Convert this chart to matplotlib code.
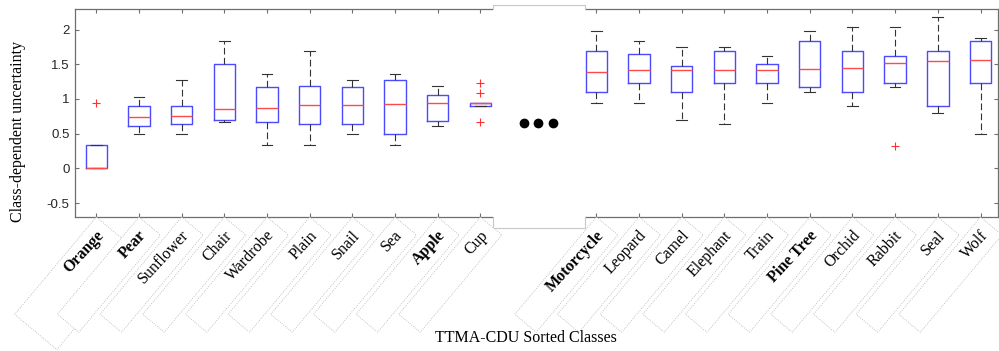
import numpy as np
import matplotlib.pyplot as plt
from matplotlib.patches import Polygon, Rectangle
from matplotlib.transforms import IdentityTransform

# classes shown (two groups, middle of the sorted list is cut out)
classes = ["Orange", "Pear", "Sunflower", "Chair", "Wardrobe", "Plain", "Snail", "Sea", "Apple", "Cup",
           "Motorcycle", "Leopard", "Camel", "Elephant", "Train", "Pine Tree", "Orchid", "Rabbit", "Seal", "Wolf"]
bold_classes = {"Orange", "Pear", "Apple", "Motorcycle", "Pine Tree"}

whislo = [0.00, 0.50, 0.50, 0.67, 0.33, 0.33, 0.50, 0.33, 0.61, 0.90,
          0.945, 0.945, 0.70, 0.64, 0.945, 1.10, 0.90, 1.17, 0.80, 0.50]
q1 = [0.00, 0.61, 0.64, 0.69, 0.67, 0.64, 0.64, 0.50, 0.68, 0.90,
      1.10, 1.23, 1.10, 1.23, 1.23, 1.17, 1.10, 1.23, 0.90, 1.23]
med = [0.00, 0.735, 0.75, 0.85, 0.875, 0.92, 0.92, 0.93, 0.94, 0.94,
       1.39, 1.42, 1.42, 1.42, 1.42, 1.43, 1.445, 1.515, 1.54, 1.555]
q3 = [0.33, 0.90, 0.90, 1.51, 1.17, 1.19, 1.17, 1.28, 1.05, 0.945,
      1.695, 1.645, 1.47, 1.695, 1.50, 1.84, 1.695, 1.615, 1.695, 1.84]
whishi = [0.33, 1.03, 1.28, 1.83, 1.36, 1.695, 1.28, 1.36, 1.19, 0.945,
          1.98, 1.84, 1.75, 1.75, 1.615, 1.98, 2.03, 2.03, 2.175, 1.88]
fliers = [[0.945], [], [], [], [], [], [], [], [], [1.225, 1.09, 0.672],
          [], [], [], [], [], [], [], [0.326], [], []]

positions = list(range(1, 11)) + [12.72 + i for i in range(10)]
dots_x = [11.02, 11.35, 11.69]
dots_y = 0.653

fig = plt.figure(figsize=(9.99, 3.51), dpi=100)
ax = fig.add_axes([75 / 999, 1 - 217 / 351, 923 / 999, 208.3 / 351])

stats = []
for i in range(len(classes)):
    stats.append(dict(med=med[i], q1=q1[i], q3=q3[i], whislo=whislo[i], whishi=whishi[i],
                      fliers=fliers[i], label=classes[i]))

ax.bxp(stats, positions=positions, widths=0.5, capwidths=0.25, manage_ticks=False,
       boxprops=dict(color="#4a4aff", lw=1.0),
       medianprops=dict(color="#ff4a4a", lw=1.0),
       whiskerprops=dict(color="#333333", lw=0.8, linestyle=(0, (6, 3))),
       capprops=dict(color="#333333", lw=0.8),
       flierprops=dict(marker="+", markeredgecolor="#ff3030", markersize=6, mew=0.8, linestyle="none"))

ax.set_xlim(0.5, 22.13)
ax.set_ylim(-0.7, 2.3)
ax.set_xticks(positions)
ax.set_xticklabels([])
ax.set_yticks([-0.5, 0, 0.5, 1, 1.5, 2])
ax.set_yticklabels(["-0.5", "0", "0.5", "1", "1.5", "2"])
for lbl in ax.get_yticklabels():
    lbl.set_fontfamily("Liberation Sans")
ax.tick_params(direction="in", length=3, width=0.8, color="#6e6e6e", top=True, right=True,
               labelsize=9.5, labelcolor="#262626", pad=4)
for sp in ax.spines.values():
    sp.set_color("#6e6e6e")
    sp.set_linewidth(0.9)

# break between the two groups: white cut, edge only outside the axes
bx0, bx1, by0, by1 = 10.30, 12.45, -0.858, 2.358
ax.add_patch(Rectangle((bx0, by0), bx1 - bx0, by1 - by0, facecolor="white",
                       edgecolor="none", zorder=5, clip_on=False))
ax.plot([bx0, bx0, bx1, bx1], [2.3, by1, by1, 2.3], color="#c8c8c8", lw=0.8, zorder=5.5, clip_on=False)
ax.plot([bx0, bx0, bx1, bx1], [-0.7, by0, by0, -0.7], color="#c8c8c8", lw=0.8, zorder=5.5, clip_on=False)
ax.plot(dots_x, [dots_y] * 3, "o", color="black", ms=6, zorder=6, clip_on=False)

# rotated tick labels with dotted boxes
ang = np.deg2rad(50)
long_dir = np.array([-np.cos(ang), -np.sin(ang)])
perp_dir = np.array([np.sin(ang), -np.cos(ang)])
L = 127
for i, name in enumerate(classes):
    p = ax.transData.transform((positions[i], -0.7))
    W = 55 if name == "Orange" else 28
    corners = [p, p + W * perp_dir, p + W * perp_dir + L * long_dir, p + L * long_dir]
    fig.add_artist(Polygon(corners, closed=True, transform=IdentityTransform(), facecolor="white",
                           edgecolor="#b0b0b0", lw=0.6, linestyle=":", zorder=1))
    q = p + 9 * long_dir + 14 * perp_dir
    fig.text(q[0], q[1], name, transform=IdentityTransform(), rotation=47, rotation_mode="anchor",
             ha="right", va="center", fontsize=11.5, family="Liberation Serif",
             fontweight="bold" if name in bold_classes else "normal", zorder=3)

fig.text(18 / 999, 1 - 131.5 / 351, "Class-dependent uncertainty", rotation=90, ha="center",
         va="center", fontsize=11.5, family="Liberation Serif")
fig.text(526 / 999, 1 - 338 / 351, "TTMA-CDU Sorted Classes", ha="center", va="center",
         fontsize=11.5, family="Liberation Serif")

fig.savefig("out.png", dpi=100)
